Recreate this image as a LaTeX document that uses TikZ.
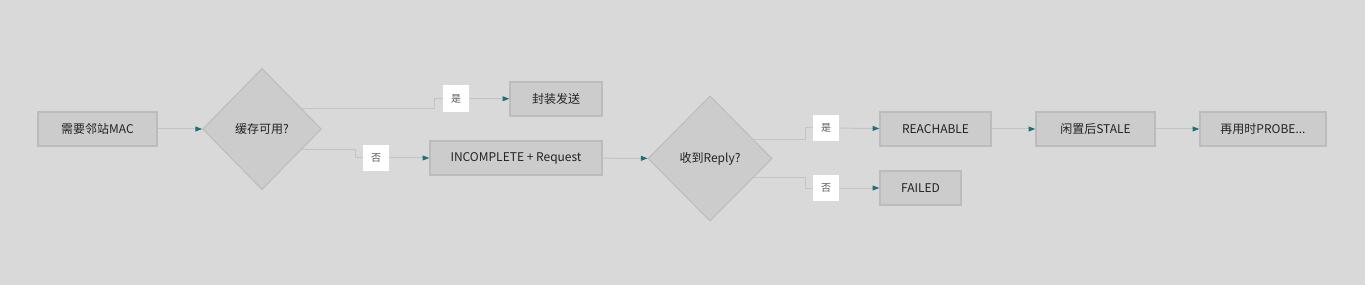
\documentclass[tikz,border=0pt]{standalone}
\usepackage{fontspec}
\setmainfont{Noto Sans CJK SC}
\usetikzlibrary{shapes.geometric,arrows.meta}
\definecolor{bg}{HTML}{D9D9D9}
\definecolor{boxfill}{HTML}{CCCCCC}
\definecolor{boxline}{HTML}{BCBCBC}
\definecolor{wire}{HTML}{C4C4C4}
\definecolor{tip}{HTML}{1F6F78}
\definecolor{txt}{HTML}{222222}
\begin{document}
\begin{tikzpicture}[x=0.75pt,y=-0.75pt,
  stepbox/.style={draw=boxline,line width=1pt,fill=boxfill,inner sep=0pt,minimum height=25.5pt,text=txt,font=\fontsize{9}{10}\selectfont},
  choice/.style={shape=diamond,draw=boxline,line width=0.75pt,fill=boxfill,inner sep=0pt,text=txt,font=\fontsize{9}{10}\selectfont},
  tag/.style={fill=white,inner sep=0pt,minimum width=19.5pt,minimum height=20pt,text=txt!75,font=\fontsize{7.5}{8}\selectfont},
  wire/.style={draw=wire,line width=0.75pt},
  flow/.style={wire,-{Triangle[length=5pt,width=3.6pt,color=tip]}}]
\fill[bg] (0,0) rectangle (1365,285);
\useasboundingbox (0,0) rectangle (1365,285);

\node[stepbox,minimum width=89.25pt] (n1) at (97.5,129) {需要邻站MAC};
\node[choice,minimum width=89pt,minimum height=91pt] (d1) at (262,129) {缓存可用?};
\node[tag] (y1) at (456,98.5) {是};
\node[tag] (no1) at (376,158) {否};
\node[stepbox,minimum width=69pt] (send) at (556,99) {封装发送};
\node[stepbox,minimum width=129pt] (inc) at (516,158) {INCOMPLETE + Request};
\node[choice,minimum width=93pt,minimum height=94pt] (d2) at (710,158.5) {收到Reply?};
\node[tag] (y2) at (826,128) {是};
\node[tag] (no2) at (826,188) {否};
\node[stepbox,minimum width=83.25pt] (reach) at (935.5,129) {REACHABLE};
\node[stepbox,minimum width=60.75pt] (fail) at (920.5,188) {FAILED};
\node[stepbox,minimum width=89.25pt] (stale) at (1095.5,129) {闲置后STALE};
\node[stepbox,minimum width=94.5pt] (probe) at (1263,129) {再用时PROBE...};

\draw[flow] (n1) -- (d1);
\draw[wire] (d1.28) -| ([xshift=-6pt]y1.west) -- (y1.west);
\draw[flow] (y1) -- (send);
\draw[wire] (d1.-28) -| ([xshift=-5.25pt]no1.west) -- (no1.west);
\draw[flow] (no1) -- (inc);
\draw[flow] (inc) -- (d2);
\draw[wire] (d2.24) -| ([xshift=-5.25pt]y2.west) -- (y2.west);
\draw[flow] (y2) -- (reach);
\draw[wire] (d2.-24) -| ([xshift=-5.25pt]no2.west) -- (no2.west);
\draw[flow] (no2) -- (fail);
\draw[flow] (reach) -- (stale);
\draw[flow] (stale) -- (probe);
\end{tikzpicture}
\end{document}
